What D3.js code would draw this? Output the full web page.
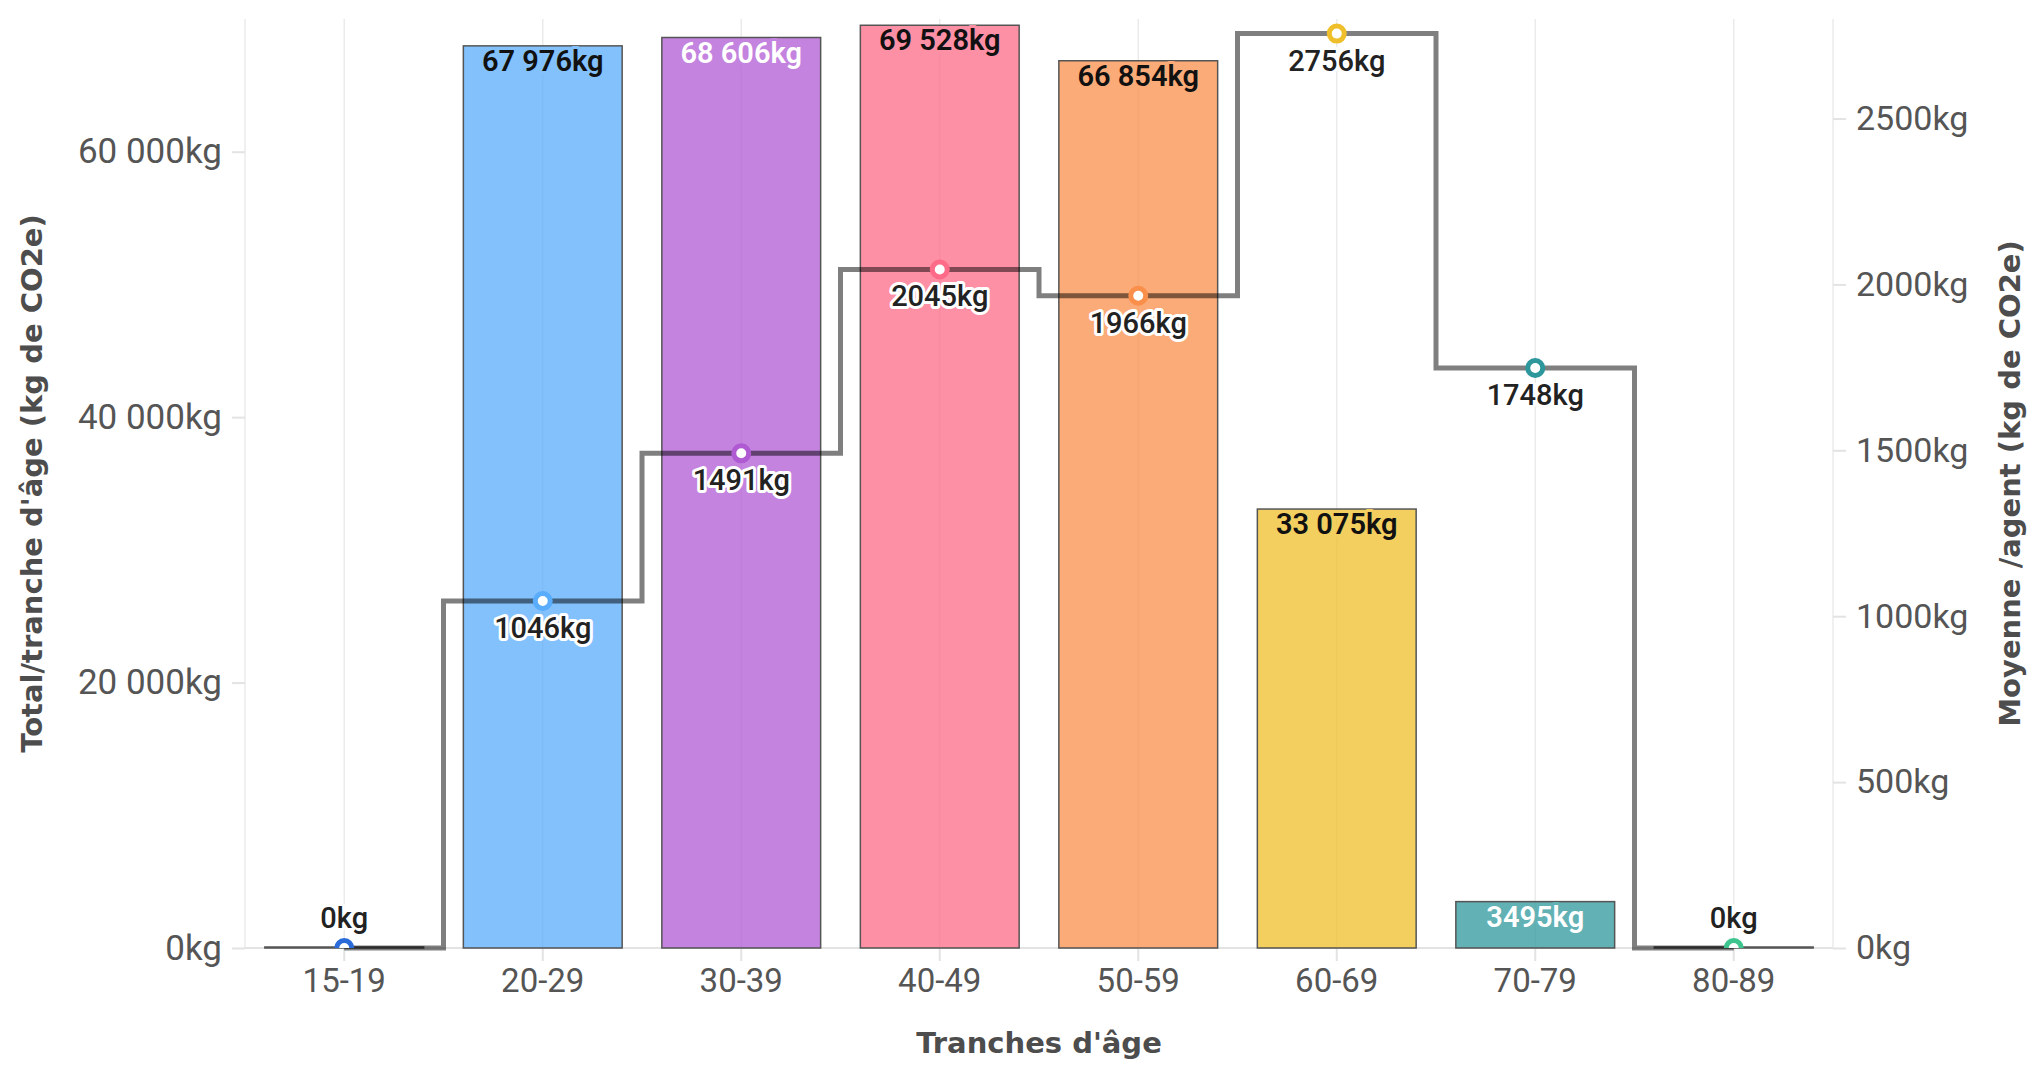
<!DOCTYPE html>
<html>
<head>
<meta charset="utf-8">
<script src="https://cdn.jsdelivr.net/npm/d3@7"></script>
<style>
  body { margin: 0; background: #ffffff; }
  svg { display: block; }
</style>
</head>
<body>
<div id="chart"></div>
<script>
// Data
const categories = ['15-19', '20-29', '30-39', '40-49', '50-59', '60-69', '70-79', '80-89'];
const totals = [0, 67976, 68606, 69528, 66854, 33075, 3495, 0];     // kg per age band
const averages = [0, 1046, 1491, 2045, 1966, 2756, 1748, 0];        // kg per agent
const leftTicks = [0, 20000, 40000, 60000];
const rightTicks = [0, 500, 1000, 1500, 2000, 2500];

// palette (one colour per age band)
const palette = ['#2a6ad9', '#5aacfc', '#af59d3', '#fd6b88', '#f98f4a', '#efbf2b', '#2d979c', '#3ec48e'];

const W = 2036, H = 1070;
const margin = { top: 19, right: 203, bottom: 122, left: 245 };
const innerW = W - margin.left - margin.right;
const innerH = H - margin.top - margin.bottom;

const fmt = v => v >= 10000 ? d3.format(',')(v).replace(/,/g, ' ') + 'kg' : v + 'kg';

// blend a colour over white with the bar opacity
const barOpacity = 0.75;
const blend = c => {
  const r = d3.rgb(c);
  return d3.rgb(
    r.r * barOpacity + 255 * (1 - barOpacity),
    r.g * barOpacity + 255 * (1 - barOpacity),
    r.b * barOpacity + 255 * (1 - barOpacity)
  ).formatHex();
};

const svg = d3.select('#chart')
  .append('svg')
    .attr('width', W)
    .attr('height', H)
    .style('background', '#ffffff');

const g = svg.append('g')
    .attr('transform', `translate(${margin.left},${margin.top})`);

// Scales
const x = d3.scaleBand()
  .domain(categories)
  .range([0, innerW])
  .paddingInner(0.2)
  .paddingOuter(0.1);

const xc = d => x(d) + x.bandwidth() / 2;

const yLeft = d3.scaleLinear().domain([0, 70000]).range([innerH, 0]);
const yRight = d3.scaleLinear().domain([0, 2800]).range([innerH, 0]);

// Vertical grid lines (category centres + panel edges)
const gridX = [0, innerW].concat(categories.map(xc));
g.append('g')
  .selectAll('line')
  .data(gridX)
  .enter()
  .append('line')
    .attr('x1', d => d)
    .attr('x2', d => d)
    .attr('y1', 0)
    .attr('y2', innerH)
    .attr('stroke', '#ebebeb')
    .attr('stroke-width', 1.5);

// Baseline
g.append('line')
  .attr('x1', 0)
  .attr('x2', innerW)
  .attr('y1', innerH)
  .attr('y2', innerH)
  .attr('stroke', '#e3e3e3')
  .attr('stroke-width', 2);

// Axes
const tickFont = 'Roboto, sans-serif';

const styleAxis = size => sel => {
  sel.select('.domain').remove();
  sel.selectAll('.tick line').attr('stroke', '#e3e3e3').attr('stroke-width', 2);
  sel.selectAll('.tick text')
    .attr('fill', '#555555')
    .style('font-family', tickFont)
    .style('font-size', size);
};

g.append('g')
  .call(d3.axisLeft(yLeft).tickValues(leftTicks).tickFormat(fmt).tickSize(13).tickPadding(10))
  .call(styleAxis('35px'));

g.append('g')
  .attr('transform', `translate(${innerW},0)`)
  .call(d3.axisRight(yRight).tickValues(rightTicks).tickFormat(fmt).tickSize(13).tickPadding(10))
  .call(styleAxis('34px'));

g.append('g')
  .attr('transform', `translate(0,${innerH})`)
  .call(d3.axisBottom(x).tickSize(13).tickPadding(8))
  .call(styleAxis('33px'));

// Bars
g.selectAll('.bar')
  .data(categories)
  .enter()
  .append('rect')
    .attr('class', 'bar')
    .attr('x', d => x(d))
    .attr('y', (d, i) => Math.min(yLeft(totals[i]), innerH - 1))
    .attr('width', x.bandwidth())
    .attr('height', (d, i) => Math.max(innerH - yLeft(totals[i]), 1))
    .attr('fill', (d, i) => palette[i])
    .attr('fill-opacity', barOpacity)
    .attr('stroke', '#555555')
    .attr('stroke-width', 1.5);

// Step line (middle) for the average per agent
svg.append('defs').append('clipPath').attr('id', 'plot-clip')
  .append('rect')
    .attr('x', -20)
    .attr('y', -20)
    .attr('width', innerW + 40)
    .attr('height', innerH + 20);

const line = d3.line()
  .x(d => xc(d))
  .y((d, i) => yRight(averages[i]))
  .curve(d3.curveStep);

g.append('path')
  .datum(categories)
  .attr('d', line)
  .attr('fill', 'none')
  .attr('stroke', 'rgba(0,0,0,0.5)')
  .attr('stroke-width', 5);

// Points
g.append('g')
  .attr('clip-path', 'url(#plot-clip)')
  .selectAll('circle')
  .data(categories)
  .enter()
  .append('circle')
    .attr('cx', d => xc(d))
    .attr('cy', (d, i) => yRight(averages[i]))
    .attr('r', 7.5)
    .attr('fill', '#ffffff')
    .attr('stroke', (d, i) => palette[i])
    .attr('stroke-width', 5);

// Bar labels (inside top)
const labelFont = 'Roboto, sans-serif';
g.selectAll('.bar-label')
  .data(categories.filter((d, i) => totals[i] > 0))
  .enter()
  .append('text')
    .attr('class', 'bar-label')
    .attr('x', d => xc(d))
    .attr('y', d => yLeft(totals[categories.indexOf(d)]) + 25)
    .attr('text-anchor', 'middle')
    .style('font-family', labelFont)
    .style('font-size', '29px')
    .style('font-weight', 600)
    .style('paint-order', 'stroke')
    .attr('stroke', d => blend(palette[categories.indexOf(d)]))
    .attr('stroke-width', 6)
    .attr('stroke-linejoin', 'round')
    .attr('fill', d => d3.lab(palette[categories.indexOf(d)]).l < 60 ? '#ffffff' : '#111111')
    .text(d => fmt(totals[categories.indexOf(d)]));

// Average labels (below the point, above for zero values)
g.selectAll('.avg-label')
  .data(categories)
  .enter()
  .append('text')
    .attr('class', 'avg-label')
    .attr('x', d => xc(d))
    .attr('y', (d, i) => averages[i] > 0 ? yRight(averages[i]) + 37 : yRight(0) - 20)
    .attr('text-anchor', 'middle')
    .style('font-family', labelFont)
    .style('font-size', '29px')
    .style('font-weight', 500)
    .style('paint-order', 'stroke')
    .attr('stroke', '#ffffff')
    .attr('stroke-width', 6)
    .attr('stroke-linejoin', 'round')
    .attr('fill', '#222222')
    .text((d, i) => fmt(averages[i]));

// Axis titles
const titleStyle = sel => sel
  .attr('text-anchor', 'middle')
  .attr('fill', '#4d4d4d')
  .style('font-family', '"DejaVu Sans", sans-serif')
  .style('font-size', '29px')
  .style('font-weight', 'bold');

svg.append('text')
  .attr('transform', `translate(42, ${margin.top + innerH / 2}) rotate(-90)`)
  .call(titleStyle)
  .text("Total/tranche d'âge (kg de CO2e)");

svg.append('text')
  .attr('transform', `translate(2020, ${margin.top + innerH / 2}) rotate(-90)`)
  .call(titleStyle)
  .text('Moyenne /agent (kg de CO2e)');

svg.append('text')
  .attr('x', margin.left + innerW / 2)
  .attr('y', 1053)
  .call(titleStyle)
  .text("Tranches d'âge");
</script>
</body>
</html>
